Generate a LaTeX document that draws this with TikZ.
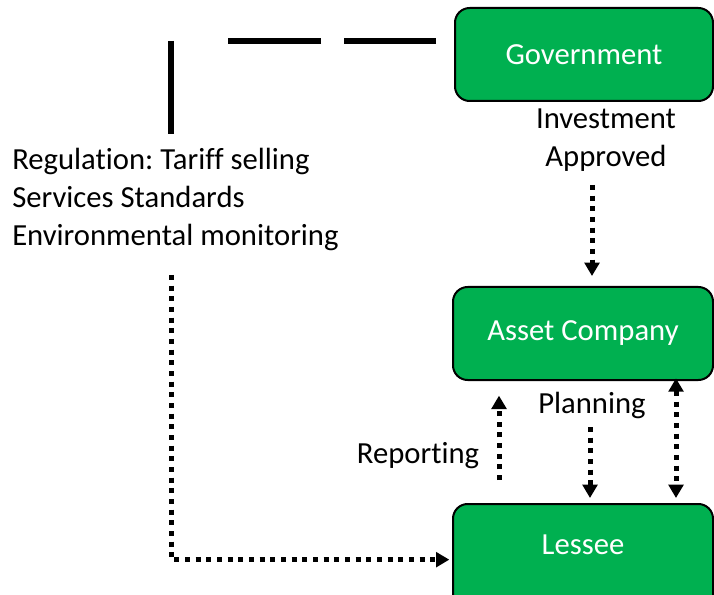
\documentclass[tikz,border=0pt]{standalone}
\usepackage{fontspec}
\setmainfont{Carlito}[Ligatures=NoCommon]
\usetikzlibrary{arrows.meta}
\frenchspacing

\definecolor{officegreen}{RGB}{0,176,80}

\tikzset{
  >={Triangle[width=11pt,length=10pt]},
  unitbox/.style={draw=black, line width=1.5pt, fill=officegreen, rounded corners=11pt,
    minimum width=195pt, minimum height=69.75pt},
  boxtext/.style={text=white, font=\fontsize{23}{28.5}\selectfont},
  lbl/.style={font=\fontsize{23}{28.5}\selectfont, align=center, inner sep=0pt},
  dotline/.style={line width=3.75pt, dash pattern=on 3.75pt off 4.25pt},
  ruleline/.style={line width=4pt,
    dash pattern=on 69pt off 17.25pt on 69.75pt off 42.75pt on 70pt off 200pt}
}

\begin{document}
\begin{tikzpicture}[x=0.75pt, y=-0.75pt]
				\clip (0,0) rectangle (714,595);
				\node[unitbox, boxtext, minimum width=193.5pt] (gov) at (584,54.5) {Government};
				\node[unitbox, boxtext] (asset) at (583,333.5) {Asset Company};
				\node[unitbox, minimum height=84pt, anchor=north] (lessee) at (583,503) {};
				\node[boxtext] (lesseetxt) at (583,545) {Lessee};
				\node[lbl] (invest) at (606,140) {Investment\\Approved};
				\node[lbl, align=left, anchor=west] (regul) at (12,199) {Regulation: Tariff selling\\Services Standards\\Environmental monitoring};
				\node[lbl] (plan) at (592,405) {Planning};
				\node[lbl] (report) at (418,456) {Reporting};
				\coordinate (govtap) at (436,41);
				\coordinate (regtop) at (171,134);
				\draw[ruleline] (govtap) -| (regtop);
				\coordinate (invtail) at (592,185);
				\draw[dotline, ->, shorten >=7.5pt] (invtail) -- (invtail |- asset.north);
				\coordinate (reptail) at (499,480);
				\draw[dotline, ->, shorten >=11pt] (reptail) -- (reptail |- asset.south);
				\coordinate (plantail) at (590,427);
				\draw[dotline, ->, shorten >=3.75pt] (plantail) -- (plantail |- lessee.north);
				\coordinate (dbl) at (676,0);
				\draw[dotline, <->, shorten <=-2pt, shorten >=3.75pt] (dbl |- asset.south) -- (dbl |- lessee.north);
				\coordinate (regtail) at (171,275);
				\draw[dotline, ->, shorten >=2pt] (regtail) |- (lessee.west |- lesseetxt.south);
		\end{tikzpicture}
\end{document}
